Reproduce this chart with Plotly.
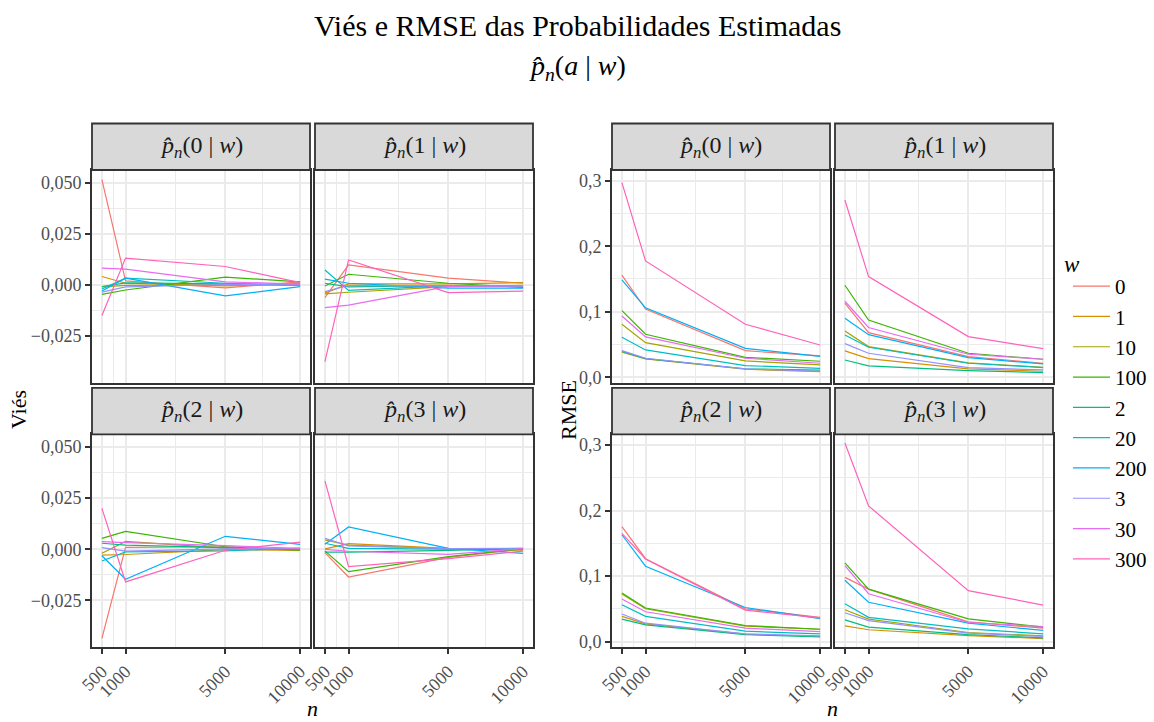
import numpy as np
import plotly.graph_objects as go

W, H = 1154, 722

# ---------------- data ----------------
N_VALUES = [500, 1000, 5000, 10000]
X_TICK_LABELS = ["500", "1000", "5000", "10000"]
W_LEVELS = ["0", "1", "10", "100", "2", "20", "200", "3", "30", "300"]
COLORS = ["#F8766D", "#D89000", "#A3A500", "#39B600", "#00BF7D",
          "#00BFC4", "#00B0F6", "#9590FF", "#E76BF3", "#FF62BC"]

# Bias (Viés), one row per w level (order of W_LEVELS), columns = N_VALUES
BIAS_A0 = [
    [0.0515, 0.0020, -0.0015, 0.0015],
    [0.0041, 0.0008, -0.0005, 0.0004],
    [-0.0010, -0.0002, 0.0000, 0.0006],
    [-0.0046, -0.0025, 0.0038, 0.0015],
    [-0.0008, 0.0010, 0.0005, -0.0002],
    [-0.0020, 0.0033, 0.0008, -0.0003],
    [-0.0030, 0.0033, -0.0054, -0.0008],
    [-0.0035, -0.0010, 0.0002, 0.0000],
    [0.0082, 0.0077, 0.0015, 0.0004],
    [-0.0150, 0.0131, 0.0090, 0.0011],
]
BIAS_A1 = [
    [-0.0062, 0.0098, 0.0033, 0.0008],
    [-0.0040, 0.0005, 0.0005, 0.0011],
    [-0.0044, -0.0036, -0.0008, -0.0002],
    [-0.0005, 0.0052, 0.0008, -0.0012],
    [0.0008, -0.0010, -0.0003, -0.0004],
    [0.0073, -0.0027, -0.0004, -0.0006],
    [0.0028, 0.0008, -0.0016, -0.0016],
    [-0.0033, -0.0003, -0.0005, -0.0006],
    [-0.0111, -0.0099, -0.0007, -0.0004],
    [-0.0375, 0.0122, -0.0038, -0.0030],
]
BIAS_A2 = [
    [-0.0436, 0.0009, 0.0012, -0.0005],
    [-0.0029, -0.0026, -0.0002, -0.0006],
    [-0.0020, 0.0038, 0.0005, -0.0004],
    [0.0053, 0.0087, 0.0012, -0.0005],
    [0.0029, 0.0020, 0.0008, 0.0002],
    [-0.0058, -0.0013, -0.0008, 0.0005],
    [-0.0032, -0.0147, 0.0063, 0.0024],
    [0.0008, -0.0009, 0.0002, 0.0003],
    [0.0037, 0.0032, 0.0017, 0.0004],
    [0.0200, -0.0160, -0.0005, 0.0035],
]
BIAS_A3 = [
    [-0.0017, -0.0136, -0.0040, 0.0002],
    [0.0002, 0.0027, 0.0004, -0.0005],
    [0.0045, 0.0020, 0.0002, -0.0002],
    [-0.0008, -0.0110, -0.0036, 0.0002],
    [-0.0014, -0.0014, -0.0006, 0.0003],
    [0.0029, 0.0004, 0.0000, 0.0003],
    [0.0024, 0.0109, 0.0004, -0.0020],
    [0.0053, 0.0016, 0.0003, 0.0005],
    [-0.0001, -0.0010, -0.0025, 0.0003],
    [0.0334, -0.0085, -0.0046, -0.0009],
]

# RMSE
RMSE_A0 = [
    [0.156, 0.104, 0.0406, 0.0325],
    [0.0382, 0.0280, 0.0122, 0.0087],
    [0.0808, 0.0529, 0.0249, 0.0190],
    [0.1017, 0.0656, 0.0305, 0.0244],
    [0.0395, 0.0285, 0.0130, 0.0110],
    [0.0610, 0.0417, 0.0178, 0.0137],
    [0.1485, 0.1060, 0.0442, 0.0320],
    [0.0407, 0.0290, 0.0127, 0.0092],
    [0.0935, 0.0615, 0.0290, 0.0214],
    [0.2970, 0.1775, 0.0808, 0.0493],
]
RMSE_A1 = [
    [0.1130, 0.0680, 0.0315, 0.0214],
    [0.0402, 0.0285, 0.0127, 0.0092],
    [0.0707, 0.0468, 0.0220, 0.0153],
    [0.1404, 0.0874, 0.0366, 0.0275],
    [0.0264, 0.0173, 0.0102, 0.0071],
    [0.0646, 0.0458, 0.0214, 0.0148],
    [0.0900, 0.0650, 0.0300, 0.0204],
    [0.0513, 0.0366, 0.0148, 0.0112],
    [0.1160, 0.0760, 0.0351, 0.0275],
    [0.2706, 0.1536, 0.0620, 0.0437],
]
RMSE_A2 = [
    [0.1753, 0.1265, 0.0500, 0.0370],
    [0.0385, 0.0270, 0.0112, 0.0077],
    [0.0727, 0.0500, 0.0235, 0.0188],
    [0.0742, 0.0512, 0.0245, 0.0188],
    [0.0342, 0.0255, 0.0107, 0.0072],
    [0.0562, 0.0385, 0.0158, 0.0117],
    [0.1630, 0.1150, 0.0520, 0.0350],
    [0.0420, 0.0280, 0.0117, 0.0087],
    [0.0650, 0.0455, 0.0204, 0.0153],
    [0.1650, 0.1260, 0.0480, 0.0360],
]
RMSE_A3 = [
    [0.0980, 0.0800, 0.0300, 0.0204],
    [0.0240, 0.0180, 0.0090, 0.0046],
    [0.0485, 0.0342, 0.0138, 0.0087],
    [0.1200, 0.0800, 0.0347, 0.0220],
    [0.0332, 0.0220, 0.0107, 0.0056],
    [0.0577, 0.0370, 0.0194, 0.0117],
    [0.0935, 0.0600, 0.0280, 0.0170],
    [0.0440, 0.0320, 0.0128, 0.0077],
    [0.1160, 0.0730, 0.0291, 0.0230],
    [0.3030, 0.2070, 0.0777, 0.0557],
]

BIAS_TICKS = [-0.025, 0.0, 0.025, 0.050]
BIAS_TICK_LABELS = ["\u22120,025", "0,000", "0,025", "0,050"]
RMSE_TICKS = [0.0, 0.1, 0.2, 0.3]
RMSE_TICK_LABELS = ["0,0", "0,1", "0,2", "0,3"]

# ---------------- layout helpers ----------------
def fx(p):
    return p / W

def fy(p):
    return 1 - p / H

sx = np.sqrt(np.array(N_VALUES, dtype=float))          # sqrt-scaled x
span = sx[-1] - sx[0]
X_RANGE = [sx[0] - 0.05 * span, sx[-1] + 0.05 * span]
x_minor = [(sx[i] + sx[i + 1]) / 2 for i in range(len(sx) - 1)]

BIAS_RANGE = [-0.04785, 0.05621]
RMSE_RANGE = [-0.0083, 0.3163]

COLS = {("bias", 0): (92, 310), ("bias", 1): (315, 533),
        ("rmse", 0): (612, 830), ("rmse", 1): (835, 1053)}
ROWS = {0: (170, 382.7), 1: (434.3, 647)}
STRIP_H = 46.5

GRID = "#EBEBEB"
BORDER = "#333333"
FONT = "Liberation Serif"

groups = [("bias", [BIAS_A0, BIAS_A1, BIAS_A2, BIAS_A3]),
          ("rmse", [RMSE_A0, RMSE_A1, RMSE_A2, RMSE_A3])]

fig = go.Figure()
shapes = []
annotations = []
layout_axes = {}

k = 0
for gname, datasets in groups:
    for a in range(4):
        k += 1
        row, col = divmod(a, 2)
        x0, x1 = COLS[(gname, col)]
        y0, y1 = ROWS[row]
        xs = "x" if k == 1 else f"x{k}"
        ys = "y" if k == 1 else f"y{k}"
        xa = "xaxis" if k == 1 else f"xaxis{k}"
        ya = "yaxis" if k == 1 else f"yaxis{k}"

        for i, lev in enumerate(W_LEVELS):
            fig.add_trace(go.Scatter(
                x=sx, y=datasets[a][i], mode="lines",
                line=dict(color=COLORS[i], width=1.2),
                name=lev, legendgroup=lev,
                showlegend=(k == 1), xaxis=xs, yaxis=ys,
                hovertemplate=f"w={lev}<br>n=%{{customdata}}<br>%{{y:.4f}}<extra></extra>",
                customdata=N_VALUES,
            ))

        bottom = row == 1
        left = col == 0
        if gname == "bias":
            yr, yt, ytl = BIAS_RANGE, BIAS_TICKS, BIAS_TICK_LABELS
        else:
            yr, yt, ytl = RMSE_RANGE, RMSE_TICKS, RMSE_TICK_LABELS
        y_minor = [(yt[i] + yt[i + 1]) / 2 for i in range(len(yt) - 1)]

        layout_axes[xa] = dict(
            domain=[fx(x0), fx(x1)], range=X_RANGE, anchor=ys,
            tickmode="array", tickvals=list(sx), ticktext=X_TICK_LABELS,
            showticklabels=bottom, ticks="outside" if bottom else "",
            ticklen=5, tickwidth=1.8, tickcolor=BORDER, tickangle=-45,
            tickfont=dict(family=FONT, size=18, color="#4D4D4D"),
            showgrid=True, gridcolor=GRID, gridwidth=2.4,
            minor=dict(tickmode="array", tickvals=x_minor, showgrid=True,
                       gridcolor=GRID, gridwidth=1.2),
            showline=True, mirror=True, linecolor=BORDER, linewidth=1.8,
            zeroline=False, fixedrange=True, automargin=False,
        )
        layout_axes[ya] = dict(
            domain=[fy(y1), fy(y0)], range=yr, anchor=xs,
            tickmode="array", tickvals=yt, ticktext=ytl,
            showticklabels=left, ticks="outside" if left else "",
            ticklen=5, tickwidth=1.8, tickcolor=BORDER,
            tickfont=dict(family=FONT, size=18, color="#4D4D4D"),
            showgrid=True, gridcolor=GRID, gridwidth=2.4,
            minor=dict(tickmode="array", tickvals=y_minor, showgrid=True,
                       gridcolor=GRID, gridwidth=1.2),
            showline=True, mirror=True, linecolor=BORDER, linewidth=1.8,
            zeroline=False, fixedrange=True, automargin=False,
        )

        # strip
        shapes.append(dict(type="rect", xref="paper", yref="paper",
                           x0=fx(x0), x1=fx(x1), y0=fy(y0), y1=fy(y0 - STRIP_H),
                           fillcolor="#D9D9D9", line=dict(color=BORDER, width=1.8),
                           layer="above"))
        annotations.append(dict(
            xref="paper", yref="paper", x=fx((x0 + x1) / 2), y=fy(y0 - STRIP_H / 2),
            text=f"<i>p\u0302</i><sub><i>n</i></sub>({a} | <i>w</i>)",
            showarrow=False, xanchor="center", yanchor="middle",
            font=dict(family=FONT, size=24, color="#1A1A1A")))

# titles
annotations += [
    dict(xref="paper", yref="paper", x=0.5, y=fy(25), xanchor="center", yanchor="middle",
         text="Viés e RMSE das Probabilidades Estimadas", showarrow=False,
         font=dict(family=FONT, size=30, color="black")),
    dict(xref="paper", yref="paper", x=0.5, y=fy(68), xanchor="center", yanchor="middle",
         text="<i>p\u0302</i><sub><i>n</i></sub>(<i>a</i> | <i>w</i>)", showarrow=False,
         font=dict(family=FONT, size=28, color="black")),
    dict(xref="paper", yref="paper", x=fx(18), y=fy(410), xanchor="center", yanchor="middle",
         text="Viés", textangle=-90, showarrow=False,
         font=dict(family=FONT, size=22, color="black")),
    dict(xref="paper", yref="paper", x=fx(568), y=fy(410), xanchor="center", yanchor="middle",
         text="RMSE", textangle=-90, showarrow=False,
         font=dict(family=FONT, size=22, color="black")),
    dict(xref="paper", yref="paper", x=fx(312), y=fy(708), xanchor="center", yanchor="middle",
         text="<i>n</i>", showarrow=False,
         font=dict(family=FONT, size=22, color="black")),
    dict(xref="paper", yref="paper", x=fx(832), y=fy(708), xanchor="center", yanchor="middle",
         text="<i>n</i>", showarrow=False,
         font=dict(family=FONT, size=22, color="black")),
    # legend title
    dict(xref="paper", yref="paper", x=fx(1062), y=fy(264), xanchor="left", yanchor="middle",
         text="<i>w</i>", showarrow=False,
         font=dict(family=FONT, size=23, color="black")),
]

fig.update_layout(
    width=W, height=H, autosize=False,
    margin=dict(l=0, r=0, t=0, b=0, autoexpand=False),
    paper_bgcolor="white", plot_bgcolor="white",
    font=dict(family=FONT, color="black"),
    shapes=shapes, annotations=annotations,
    showlegend=True,
    legend=dict(
        x=fx(1068), y=fy(266), xanchor="left", yanchor="top",
        font=dict(family=FONT, size=21, color="black"),
        tracegroupgap=0, itemwidth=37, bgcolor="rgba(0,0,0,0)",
    ),
    **layout_axes,
)

fig.write_html("out.html")
